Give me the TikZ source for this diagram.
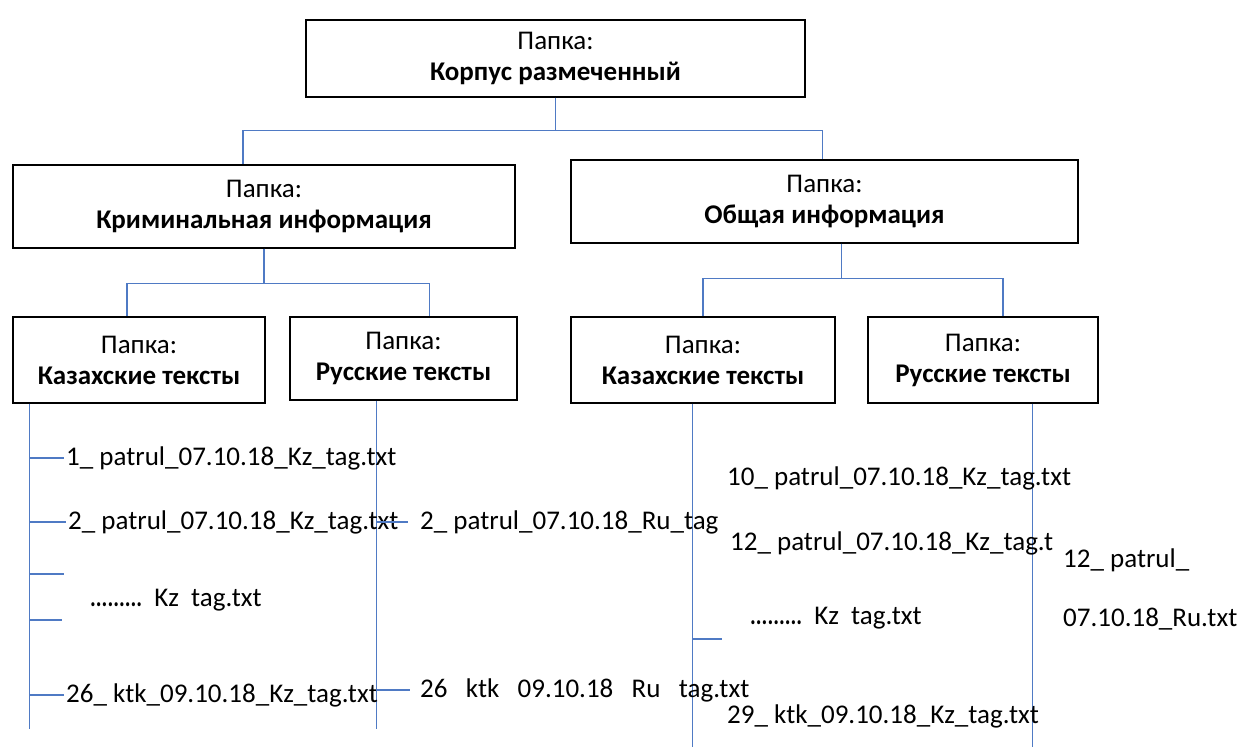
\documentclass[tikz,border=0pt]{standalone}
\usepackage{fontspec}
\setmainfont{Carlito}
\usetikzlibrary{positioning}
\definecolor{linkblue}{RGB}{79,122,196}
\newcommand{\fdots}{\scalebox{0.8}[1]{\textbf{.........}}}

\begin{document}
\begin{tikzpicture}[x=1pt, y=-1pt,
  font=\fontsize{27}{31}\selectfont,
  folder/.style={draw, line width=1.4pt, align=center, inner sep=0pt},
  link/.style={draw=linkblue, line width=1.3pt},
  file/.style={anchor=west, inner sep=2pt}]

  \useasboundingbox (0,0) rectangle (1240,747);

  % folders
  \node[folder, minimum width=499pt, minimum height=77pt] (root) at (555.5,58.5)
    {Папка:\\\textbf{Корпус размеченный}};
  \node[folder, minimum width=502pt, minimum height=83pt] (crim) at (264,206.5)
    {Папка:\\\textbf{Криминальная информация}};
  \node[folder, minimum width=507pt, minimum height=83pt] (gen) at (824.5,201.5)
    {Папка:\\\textbf{Общая информация}};
  \node[folder, minimum width=252pt, minimum height=86pt] (kazA) at (139,360)
    {Папка:\\\textbf{Казахские тексты}};
  \node[folder, minimum width=227pt, minimum height=83pt] (rusA) at (403.5,358.5)
    {Папка:\\\textbf{Русские тексты}};
  \node[folder, minimum width=264pt, minimum height=86pt] (kazB) at (703,360)
    {Папка:\\\textbf{Казахские тексты}};
  \node[folder, minimum width=230pt, minimum height=86pt] (rusB) at (983,360)
    {Папка:\\\textbf{Русские тексты}};

  % tree
  \draw[link] (root.south) -- ++(0,33) -| ([xshift=-21pt]crim.north);
  \draw[link] (root.south) -- ++(0,33) -| ([xshift=-2pt]gen.north);
  \draw[link] (crim.south) -- ++(0,35) -| ([xshift=-12pt]kazA.north);
  \draw[link] (crim.south) -- ++(0,35) -| ([xshift=26pt]rusA.north);
  \draw[link] ([xshift=17pt]gen.south) -- ++(0,35) -| (kazB.north);
  \draw[link] ([xshift=17pt]gen.south) -- ++(0,35) -| ([xshift=20pt]rusB.north);

  % file lists
  \draw[link] ([xshift=17pt]kazA.south west) -- ++(0,325) coordinate (endA);
  \draw[link] ([xshift=87pt]rusA.south west) -- ++(0,328) coordinate (endB);
  \draw[link] ([xshift=122pt]kazB.south west) -- ++(0,344) coordinate (endC);
  \draw[link] ([xshift=165pt]rusB.south west) -- ++(0,344) coordinate (endD);

  \node[file] (a1) at (64,458) {1\_ patrul\_07.10.18\_Kz\_tag.txt};
  \node[file] (a2) at (66,522) {2\_ patrul\_07.10.18\_Kz\_tag.txt};
  \node[file] (a3) at (88,600) {\fdots\ \ Kz\ \ tag.txt};
  \node[file] (a4) at (64,695) {26\_ ktk\_09.10.18\_Kz\_tag.txt};
  \coordinate (a5) at (64,574);
  \coordinate (a6) at (62,620);

  \node[file] (b1) at (418,522) {2\_ patrul\_07.10.18\_Ru\_tag};
  \node[file] (b2) at (418,690) {26 \ \ ktk \ \ 09.10.18 \ \ Ru \ \ tag.txt};

  \node[file] (c1) at (725,478) {10\_ patrul\_07.10.18\_Kz\_tag.txt};
  \node[file] (c2) at (728,543) {12\_ patrul\_07.10.18\_Kz\_tag.t};
  \node[file] (c3) at (748,618) {\fdots\ \ Kz\ \ tag.txt};
  \node[file] (c4) at (725,716) {29\_ ktk\_09.10.18\_Kz\_tag.txt};
  \coordinate (c5) at (722,639);

  \node[file] (d1) at (1061,560) {12\_ patrul\_};
  \node[file] (d2) at (1061,619) {07.10.18\_Ru.txt};

  % ticks
  \draw[link] (endA |- a1) -- (a1.west);
  \draw[link] (endA |- a2) -- (a2.west);
  \draw[link] (endA |- a5) -- (a5);
  \draw[link] (endA |- a6) -- (a6);
  \draw[link] (endA |- a4) -- (a4.west);
  \draw[link] (endB |- b1) -- ([xshift=-10pt]b1.west);
  \draw[link] (endB |- b2) -- ([xshift=-8pt]b2.west);
  \draw[link] (endC |- c5) -- (c5);
\end{tikzpicture}
\end{document}
